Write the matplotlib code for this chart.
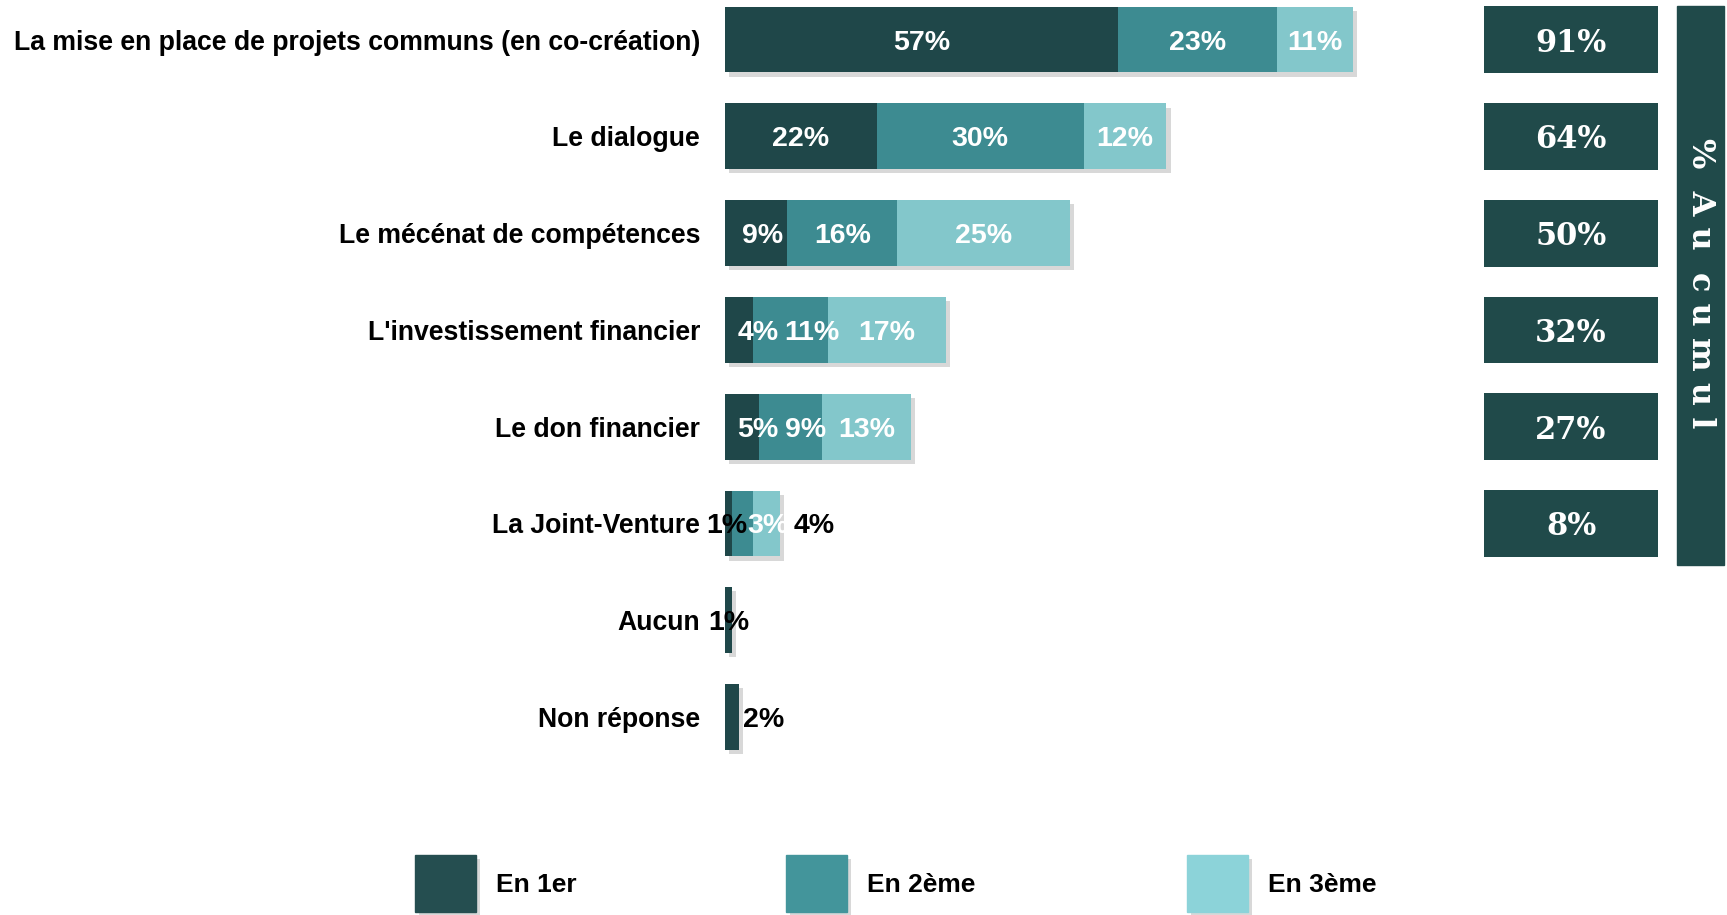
import numpy as np
import matplotlib
matplotlib.use("Agg")
import matplotlib.pyplot as plt
import matplotlib.patheffects as pe
from matplotlib.patches import Rectangle

categories = ["La mise en place de projets communs (en co-création)", "Le dialogue",
              "Le mécénat de compétences", "L'investissement financier",
              "Le don financier", "La Joint-Venture", "Aucun", "Non réponse"]
en_1er = [57, 22, 9, 4, 5, 1, 1, 2]
en_2eme = [23, 30, 16, 11, 9, 3, 0, 0]
en_3eme = [11, 12, 25, 17, 13, 4, 0, 0]
series_names = ["En 1er", "En 2ème", "En 3ème"]
cumul_rows = 6

W, H = 1727, 915
bar_cols = ["#1f4749", "#3d8b91", "#83c7cb"]
leg_cols = ["#254e50", "#43959b", "#8cd3d9"]
box_col = "#204a4a"
sans = ["Liberation Sans", "DejaVu Sans"]
shadow = [pe.SimplePatchShadow(offset=(3, -3), shadow_rgbFace="#aaaaaa", alpha=0.45), pe.Normal()]

fig = plt.figure(figsize=(W / 100, H / 100), dpi=100)

# main stacked bar axes
ax = fig.add_axes([725 / W, (H - 765.4) / H, 689.7 / W, 765.4 / H])
ax.set_xlim(0, 100)
ax.set_ylim(7.5, -0.409)
ax.axis("off")

y = np.arange(len(categories))
series = [np.array(en_1er), np.array(en_2eme), np.array(en_3eme)]
left = np.zeros(len(categories))
for vals, col in zip(series, bar_cols):
    bars = ax.barh(y, vals, left=left, height=0.68, color=col, linewidth=0)
    for b in bars:
        b.set_path_effects(shadow)
    left = left + vals
totals = left

# value labels (nudges for narrow segments, as in the source chart)
nudge = [[0, 0, 0.9, 2.8, 2.3, -0.2, 0, 0],
         [0, 0, 0, 3.1, 2.2, 3.7, 0, 0],
         [0, 0, 0, 0, 0, 6.9, 0, 0]]
txt_col = [["white"] * 5 + ["black", "black", "black"],
           ["white"] * 8,
           ["white"] * 5 + ["black", "white", "white"]]
start = np.zeros(len(categories))
for s, vals in enumerate(series):
    for i, v in enumerate(vals):
        if v > 0:
            xc = start[i] + v / 2 + nudge[s][i]
            ha = "center"
            if s == 0 and i == 7:
                xc = start[i] + v + 0.6
                ha = "left"
            ax.text(xc, i, f"{v}%", ha=ha, va="center_baseline", color=txt_col[s][i],
                    fontsize=20.5, fontweight="bold", family=sans)
    start = start + vals

for i, c in enumerate(categories):
    ax.text(-3.6, i, c, ha="right", va="center_baseline", fontsize=19.2, fontweight="bold",
            family=sans)

# cumulative boxes
ax2 = fig.add_axes([1484 / W, (H - 765.4) / H, 174 / W, 765.4 / H])
ax2.set_xlim(0, 1)
ax2.set_ylim(7.5, -0.409)
ax2.axis("off")
ax2.barh(y[:cumul_rows], [1] * cumul_rows, height=0.69, color=box_col, linewidth=0)
for i in range(cumul_rows):
    ax2.text(0.5, i, f"{int(totals[i])}%", ha="center", va="center_baseline", color="white",
             fontsize=22, fontweight="bold", family="DejaVu Serif")

# vertical banner
fig.patches.append(Rectangle((1677 / W, (H - 565) / H), 47 / W, 559.5 / H,
                             transform=fig.transFigure, color=box_col, zorder=1))
fig.text(1700.5 / W, (H - 283) / H, "%  A u  c u m u l", rotation=-90, ha="center",
         va="center", color="white", fontsize=23, fontweight="bold", family="DejaVu Serif")

# legend
leg_x = [415, 786, 1187]
for name, col, lx in zip(series_names, leg_cols, leg_x):
    r = Rectangle((lx / W, (H - 912) / H), 61 / W, 57 / H, transform=fig.transFigure,
                  color=col, zorder=2)
    r.set_path_effects(shadow)
    fig.patches.append(r)
    fig.text((lx + 81) / W, (H - 883) / H, name, ha="left", va="center_baseline",
             fontsize=19, fontweight="bold", family=sans)

fig.savefig("out.png", dpi=100, facecolor="white")
